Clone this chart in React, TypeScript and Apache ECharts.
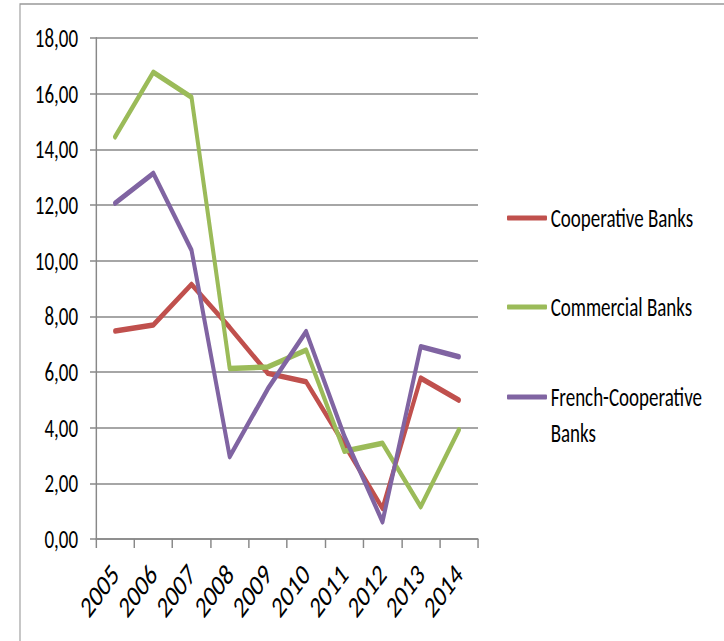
import React, { useEffect, useRef } from 'react';
import * as echarts from 'echarts';

const years = ['2005', '2006', '2007', '2008', '2009', '2010', '2011', '2012', '2013', '2014'];
const cooperative = [7.47, 7.69, 9.15, 7.6, 5.95, 5.65, 3.4, 1.1, 5.78, 4.99];
const commercial = [14.45, 16.77, 15.87, 6.13, 6.18, 6.79, 3.15, 3.44, 1.16, 3.92];
const french = [12.07, 13.14, 10.38, 2.96, 5.4, 7.45, 3.7, 0.62, 6.91, 6.55];
const seriesNames = ['Cooperative Banks', 'Commercial Banks', 'French-Cooperative Banks'];
const colors = ['#C0504D', '#9BBB59', '#8064A2'];

const FONT = 'Carlito, "Noto Sans CJK SC", "Open Sans", sans-serif';

// The reference is horizontally compressed; render wider and squeeze.
const OUT_W = 724;
const OUT_H = 641;
const INNER_W = 992;
const SX = OUT_W / INNER_W;
const ux = (x: number) => x / SX;

export default function App() {
  const ref = useRef<HTMLDivElement>(null);
  useEffect(() => {
    if (!ref.current) return;
    const chart = echarts.init(ref.current, null, { renderer: 'svg' });
    const dataSets = [cooperative, commercial, french];
    const legendTops = [202, 291, 343];
    chart.setOption({
      animation: false,
      backgroundColor: '#fff',
      graphic: [
        {
          type: 'rect',
          shape: { x: ux(20), y: 4, width: 1200, height: 800 },
          style: { fill: 'none', stroke: '#999', lineWidth: 1.5 },
          silent: true,
        },
      ],
      grid: { left: ux(96), right: INNER_W - ux(478), top: 38, bottom: 102, outerBoundsMode: 'none' },
      legend: seriesNames.map((n, i) => ({
        data: [n],
        orient: 'vertical',
        left: ux(507),
        top: legendTops[i],
        padding: 0,
        icon: 'roundRect',
        itemWidth: ux(40),
        itemHeight: 5,
        formatter: (name: string) =>
          name === 'French-Cooperative Banks' ? '\nFrench-Cooperative\nBanks' : name,
        textStyle: {
          fontFamily: FONT,
          fontSize: 26,
          color: '#000',
          lineHeight: i === 2 ? 36 : 32,
        },
      })),
      xAxis: {
        type: 'category',
        data: years,
        boundaryGap: true,
        axisLine: { show: true, lineStyle: { color: '#888', width: 1.5 } },
        axisTick: { show: true, length: 9, lineStyle: { color: '#888', width: 2 } },
        axisLabel: {
          rotate: 45,
          margin: 30,
          fontFamily: FONT,
          fontSize: 30,
          color: '#000',
          interval: 0,
        },
        splitLine: { show: false },
      },
      yAxis: {
        type: 'value',
        min: 0,
        max: 18,
        interval: 2,
        axisLine: { show: true, lineStyle: { color: '#888', width: 2 } },
        axisTick: { show: true, length: ux(6), lineStyle: { color: '#888', width: 1.5 } },
        axisLabel: {
          margin: ux(18),
          fontFamily: FONT,
          fontSize: 26,
          color: '#000',
          formatter: (v: number) => v.toFixed(2).replace('.', ','),
        },
        splitLine: { show: true, lineStyle: { color: '#888', width: 1.5 } },
      },
      series: seriesNames.map((n, i) => ({
        name: n,
        type: 'line',
        data: dataSets[i],
        color: colors[i],
        showSymbol: false,
        symbol: 'none',
        lineStyle: { width: 5.5, color: colors[i], cap: 'round', join: 'round' },
        itemStyle: { color: colors[i] },
      })),
    });
    return () => chart.dispose();
  }, []);
  return (
    <div style={{ position: 'absolute', left: 0, top: 0, width: OUT_W, height: OUT_H, overflow: 'hidden' }}>
      <div
        ref={ref}
        style={{ width: INNER_W, height: OUT_H, transform: `scaleX(${SX})`, transformOrigin: '0 0' }}
      />
    </div>
  );
}
